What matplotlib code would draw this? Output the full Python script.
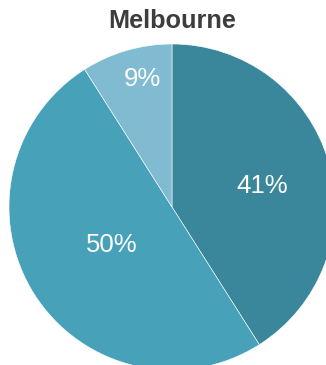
import matplotlib.pyplot as plt

# Share of responses for Melbourne
labels = ['A', 'B', 'C']
shares = [41, 50, 9]
colors = ['#3a879c', '#46a1b9', '#80bbd1']

W, H = 326, 365
cx, cy, r = 172, 207, 163   # pie centre and radius in pixels

fig = plt.figure(figsize=(W / 100, H / 100), dpi=100)
ax = fig.add_axes([0, 0, 1, 1])

wedges, texts, autotexts = ax.pie(
    shares, colors=colors, startangle=90, counterclock=False, radius=1,
    wedgeprops=dict(edgecolor='white', linewidth=0.4),
    autopct='%d%%', pctdistance=0.6,
    textprops=dict(color='white', fontsize=18.5, family='Liberation Sans'))

# pie() resets limits, so set them afterwards
ax.set_xlim(-cx / r, (W - cx) / r)
ax.set_ylim((cy - H) / r, cy / r)
ax.set_aspect('equal')
ax.axis('off')

# label spots, pixel coordinates
label_px = [(262.5, 186), (112, 245), (142.5, 79)]
for t, (px, py) in zip(autotexts, label_px):
    t.set_position(((px - cx) / r, (cy - py) / r))
    t.set_ha('center')
    t.set_va('center')

fig.text(172.5 / W, 1 - 21 / H, 'Melbourne', ha='center', va='center',
         fontsize=18.2, fontweight='bold', color='#3d3d3d', family='Liberation Sans')

fig.savefig('out.png', dpi=100)
